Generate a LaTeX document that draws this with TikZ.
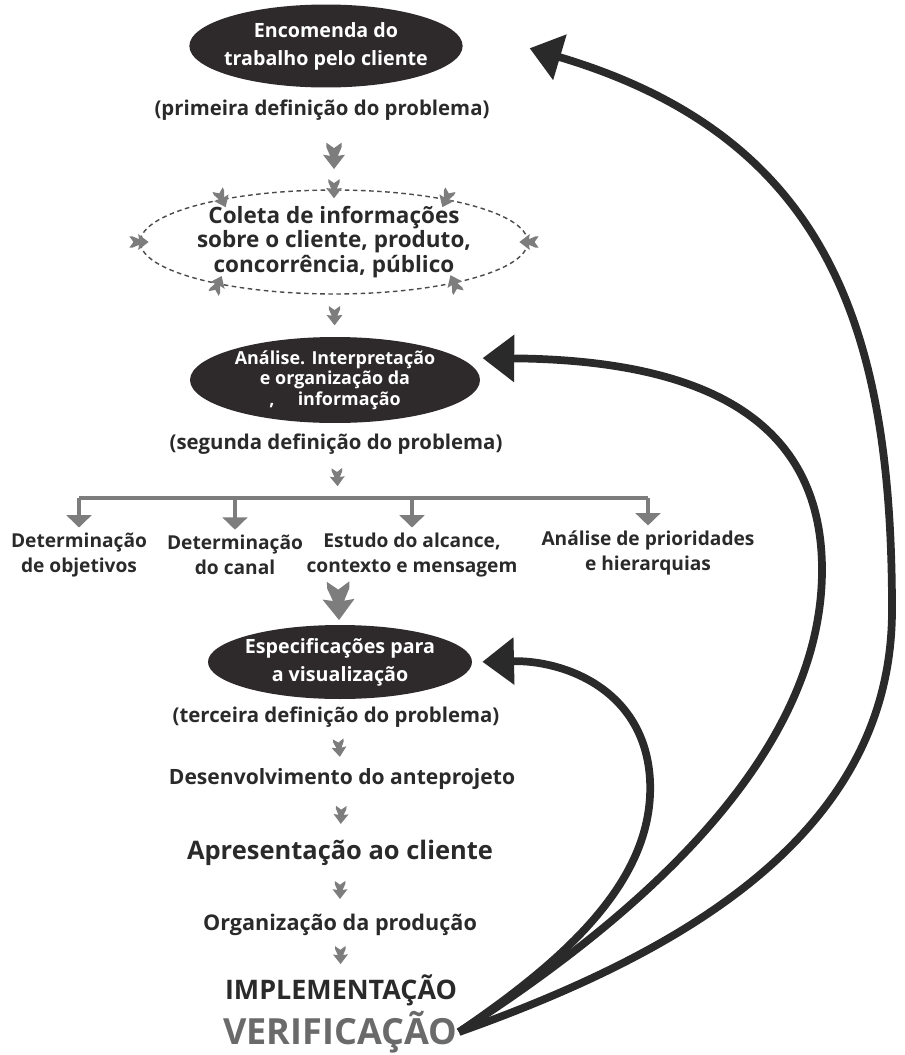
\documentclass[tikz,border=0pt]{standalone}
\usepackage{fontspec}
\setmainfont{Open Sans}
\usetikzlibrary{shapes.geometric,arrows.meta,decorations.markings,calc}

\definecolor{ovalfill}{HTML}{2E2A2B}
\definecolor{ink}{HTML}{2A2A2A}
\definecolor{arrowgray}{HTML}{7D7D7D}
\definecolor{dashgray}{HTML}{4A4A4A}
\definecolor{verifgray}{HTML}{6A6A6A}

\tikzset{
  oval/.style={ellipse, fill=ovalfill, text=white, inner xsep=-3pt, inner ysep=-2pt, align=center,
    font=\bfseries\fontsize{11.2}{16}\selectfont},
  phase/.style={align=center, text=ink, inner sep=1pt, font=\bfseries\fontsize{11.6}{14.5}\selectfont},
  branch/.style={phase, font=\bfseries\fontsize{10.9}{14}\selectfont},
  feedback/.style={draw=ink, line width=4.4pt, -{Triangle[length=18pt,width=26pt]}},
  barline/.style={draw=arrowgray, line width=2.4pt, line cap=square},
  drop/.style={draw=arrowgray, line width=2.4pt, -{Triangle[length=7pt,width=14pt]}, shorten >=2pt},
  flow/.style 2 args={decorate, decoration={markings, mark=at position #1 with {
    \fill[arrowgray, scale=#2] (12,0) -- (-1,10) -- (0,3.5) -- (-8,7) -- (-12,7) -- (-7,0)
      -- (-12,-7) -- (-8,-7) -- (0,-3.5) -- (-1,-10) -- cycle;}}}
}

\begin{document}
\begin{tikzpicture}[x=0.02cm, y=-0.02cm]
  \useasboundingbox (0,0) rectangle (904,1055);

  \node[oval, minimum width=5.4cm, minimum height=1.66cm] (order) at (326,46) {Encomenda do\\trabalho pelo cliente};
  \node[phase] (first) at (322,110) {(primeira definição do problema)};
  \node[ellipse, draw=dashgray, dash pattern=on 2.6pt off 2pt, line width=0.8pt, inner sep=0pt,
    minimum width=7.56cm, minimum height=2.08cm, align=center, text=ink,
    font=\bfseries\fontsize{12.8}{14}\selectfont] (coleta) at (334,242)
    {Coleta de informações\\sobre o cliente, produto,\\concorrência, público};
  \node[oval, inner xsep=-1pt, minimum width=5.8cm, minimum height=1.72cm, font=\bfseries\fontsize{10.2}{11.6}\selectfont]
    (analise) at (335,380) {Análise. Interpretação\\e organização da\\{,}\hspace{1.3em}informação};
  \node[phase] (second) at (336,444) {(segunda definição do problema)};
  \coordinate (bar) at (338,498);
  \node[branch] (obj) at (79,555) {Determinação\\de objetivos};
  \node[branch] (canal) at (235,555) {Determinação\\do canal};
  \node[branch] (alcance) at (412,555) {Estudo do alcance,\\contexto e mensagem};
  \node[branch] (prior) at (648,553) {Análise de prioridades\\e hierarquias};
  \coordinate (merge) at (338,577);
  \node[oval, inner xsep=-1pt, minimum width=4.7cm, minimum height=1.48cm] (spec) at (340,662) {Especificações para\\a visualização};
  \node[phase] (third) at (336,717) {(terceira definição do problema)};
  \node[phase, font=\bfseries\fontsize{12}{14}\selectfont] (devel) at (342,779) {Desenvolvimento do anteprojeto};
  \node[phase, font=\bfseries\fontsize{14.5}{17}\selectfont] (apres) at (340,853) {Apresentação ao cliente};
  \node[phase, font=\bfseries\fontsize{12.3}{14}\selectfont] (org) at (340,925) {Organização da produção};
  \node[phase, font=\bfseries\fontsize{15.3}{18}\selectfont] (impl) at (341,990) {IMPLEMENTAÇÃO};
  \node[phase, text=verifgray, font=\bfseries\fontsize{20.5}{23}\selectfont] (verif) at (340,1032) {VERIFICAÇÃO};

  \path[flow={.5}{1.1}] (first.south -| coleta) -- (coleta);
  \path[flow={.5}{.8}] (coleta) -- (analise);
  \path[flow={.5}{.75}] (second) -- (bar);
  \path[flow={.5}{1.6}] (merge) -- (spec);
  \foreach \a/\b in {third/devel, devel/apres, apres/org, org/impl}
    \path[flow={.5}{.75}] (\a) -- (\b);

  \foreach \ang/\dx/\dy in {90/0/-30, 159/-12/-26, 21/12/-26, 180/-30/0, 0/30/0, 200/-12/26, 341/12/26} {
    \coordinate (src-\ang) at ($(coleta.\ang)+(\dx,\dy)$);
    \path[flow={.98}{.8}] (src-\ang) -- (coleta.\ang);
  }

  \draw[barline] (obj.north |- bar) -- (prior.north |- bar);
  \foreach \b in {obj,canal,alcance,prior}
    \draw[drop] (\b.north |- bar) -- (\b.north);

  \draw[feedback, shorten >=0.2cm] (verif.east) .. controls (565,960) and (655,880) .. (650,780)
    .. controls (645,690) and (565,660) .. (spec.east);
  \draw[feedback, shorten >=0.45cm] (verif.east) .. controls (610,935) and (822,770) .. (822,570)
    .. controls (822,430) and (720,360) .. (analise.10);
  \draw[feedback, shorten >=2.1cm] (verif.east) .. controls (690,950) and (892,830) .. (892,610)
    .. controls (892,330) and (829,137) .. (order.15);
\end{tikzpicture}
\end{document}
